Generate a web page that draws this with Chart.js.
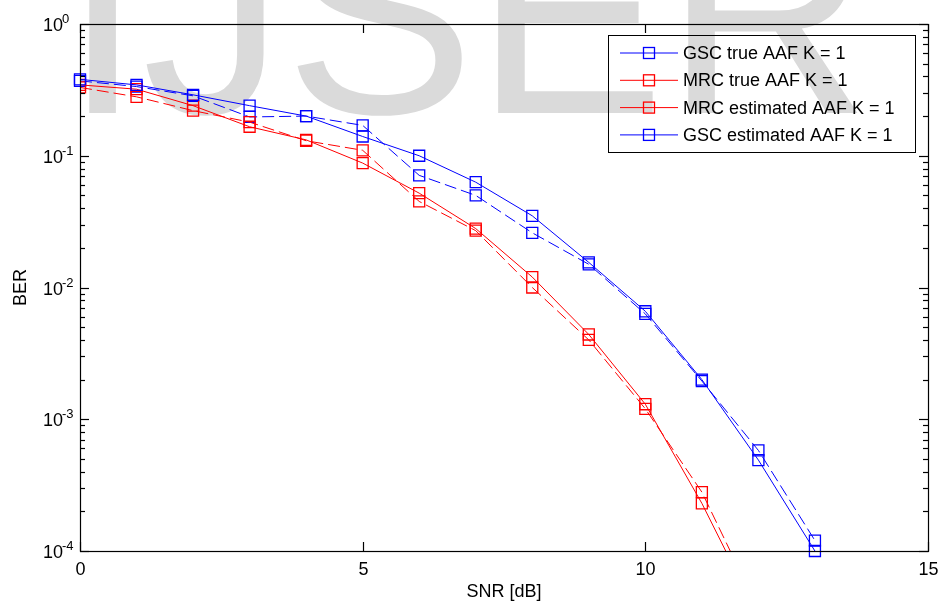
<!DOCTYPE html>
<html>
<head>
<meta charset="utf-8">
<script src="https://cdn.jsdelivr.net/npm/chart.js@4.4.1/dist/chart.umd.min.js"></script>
<style>
  html, body { margin: 0; padding: 0; background: #fff; }
  #wrap { position: relative; width: 940px; height: 608px; overflow: hidden; }
  #mark { position: absolute; left: 63px; top: -128px; font: 285px/285px "Liberation Sans", Arial, sans-serif; color: #dadada; white-space: nowrap; }
  canvas { position: absolute; left: 0; top: 0; }
</style>
</head>
<body>
<div id="wrap">
  <div id="mark">IJSER</div>
  <canvas id="berChart" width="940" height="608"></canvas>
</div>
<script>
// SNR points in dB
const snr = [0, 1, 2, 3, 4, 5, 6, 7, 8, 9, 10, 11, 12, 13];

// BER values
const gscTrue = [0.38, 0.345, 0.29, 0.24, 0.2, 0.14, 0.1, 0.063, 0.035, 0.0155, 0.0066, 0.002, 0.00049, 0.0001];
const gscEst  = [0.37, 0.335, 0.285, 0.197, 0.2, 0.17, 0.071, 0.05, 0.026, 0.015, 0.0063, 0.00195, 0.00058, 0.00012];
const mrcTrue = [0.345, 0.32, 0.24, 0.166, 0.132, 0.088, 0.052, 0.028, 0.012, 0.0044, 0.0013, 0.00023, 0.000032];
const mrcEst  = [0.33, 0.28, 0.22, 0.18, 0.13, 0.11, 0.045, 0.027, 0.010, 0.0040, 0.0012, 0.00028, 0.000036];

const xTicks = [0, 5, 10, 15];
const yDecades = [-4, -3, -2, -1, 0];
const legendLabels = ['GSC true AAF K = 1', 'MRC true AAF K = 1', 'MRC estimated AAF K = 1', 'GSC estimated AAF K = 1'];

const BLUE = '#0000ff';
const RED = '#ff0000';
const FONT = '"Liberation Sans", Arial, sans-serif';

const toPoints = (vals) => vals.map((v, i) => ({ x: snr[i], y: v }));

const series = (label, vals, color, dashed, clipBottom) => ({
    label: label,
    data: toPoints(vals),
    borderColor: color,
    borderWidth: 1,
    borderDash: dashed ? [12, 5] : [],
    pointStyle: 'rect',
    pointRadius: 7.8,
    pointBorderWidth: 1.3,
    pointBorderColor: color,
    pointBackgroundColor: 'rgba(0,0,0,0)',
    fill: false,
    tension: 0,
    clip: clipBottom ? { left: 10, top: 10, right: 10, bottom: 8 } : 0
})

// box, inward ticks, labels and legend the way the original figure has them
const matlabAxes = {
    id: 'matlabAxes',
    afterDraw(chart) {
        const { ctx, chartArea: a, scales } = chart
        const xs = scales.x, ys = scales.y
        const seg = (x1, y1, x2, y2) => {
            ctx.beginPath(); ctx.moveTo(x1, y1); ctx.lineTo(x2, y2); ctx.stroke()
        }
        ctx.save()
        ctx.strokeStyle = '#000'
        ctx.fillStyle = '#000'
        ctx.lineWidth = 1.2
        ctx.strokeRect(a.left + 0.5, a.top + 0.5, a.right - a.left, a.bottom - a.top)

        // x axis
        ctx.font = '18px ' + FONT
        ctx.textAlign = 'center'
        ctx.textBaseline = 'alphabetic'
        for (const v of xTicks) {
            const px = Math.round(xs.getPixelForValue(v)) + 0.5
            seg(px, a.bottom, px, a.bottom - 9)
            seg(px, a.top, px, a.top + 9)
            ctx.fillText(String(v), px, a.bottom + 24)
        }
        ctx.fillText('SNR [dB]', (a.left + a.right) / 2, 597)

        // y axis, decades with minor ticks
        for (const e of yDecades) {
            for (let m = 1; m <= 9; m++) {
                const v = m * Math.pow(10, e)
                if (v > 1.0001) break
                const py = Math.round(ys.getPixelForValue(v)) + 0.5
                const len = m === 1 ? 9 : 5
                seg(a.left, py, a.left + len, py)
                seg(a.right, py, a.right - len, py)
            }
            const py = ys.getPixelForValue(Math.pow(10, e))
            ctx.textAlign = 'left'
            ctx.font = '18px ' + FONT
            ctx.fillText('10', 43, py + 7)
            ctx.font = '13px ' + FONT
            ctx.fillText(e === 0 ? '0' : '-' + Math.abs(e), 62, py - 1)
        }

        ctx.save()
        ctx.translate(26, (a.top + a.bottom) / 2)
        ctx.rotate(-Math.PI / 2)
        ctx.textAlign = 'center'
        ctx.font = '18px ' + FONT
        ctx.fillText('BER', 0, 0)
        ctx.restore()

        // legend
        ctx.lineWidth = 1
        ctx.strokeRect(608.5, 35.5, 307, 117)
        const colors = [BLUE, RED, RED, BLUE]
        ctx.font = '18px ' + FONT
        ctx.textBaseline = 'middle'
        ctx.textAlign = 'left'
        legendLabels.forEach((txt, i) => {
            const ly = 53 + i * 27.3
            ctx.strokeStyle = colors[i]
            ctx.lineWidth = 1
            seg(620, ly, 678, ly)
            ctx.lineWidth = 1.3
            ctx.strokeRect(643.5, ly - 5.5, 11, 11)
            ctx.fillStyle = '#000'
            ctx.fillText(txt, 683, ly + 1)
        })
        ctx.restore()
    }
}

new Chart(document.getElementById('berChart'), {
    type: 'line',
    data: {
        datasets: [
            series(legendLabels[0], gscTrue, BLUE, false, true),
            series(legendLabels[1], mrcTrue, RED, false, false),
            series(legendLabels[2], mrcEst, RED, true, false),
            series(legendLabels[3], gscEst, BLUE, true, true),
        ]
    },
    options: {
        responsive: false,
        animation: false,
        devicePixelRatio: 1,
        layout: { padding: { left: 80, right: 12, top: 24, bottom: 57 } },
        scales: {
            x: { type: 'linear', min: 0, max: 15, display: false },
            y: { type: 'logarithmic', min: 0.0001, max: 1, display: false }
        },
        plugins: {
            legend: { display: false },
            tooltip: { enabled: false }
        }
    },
    plugins: [matlabAxes]
});
</script>
</body>
</html>
